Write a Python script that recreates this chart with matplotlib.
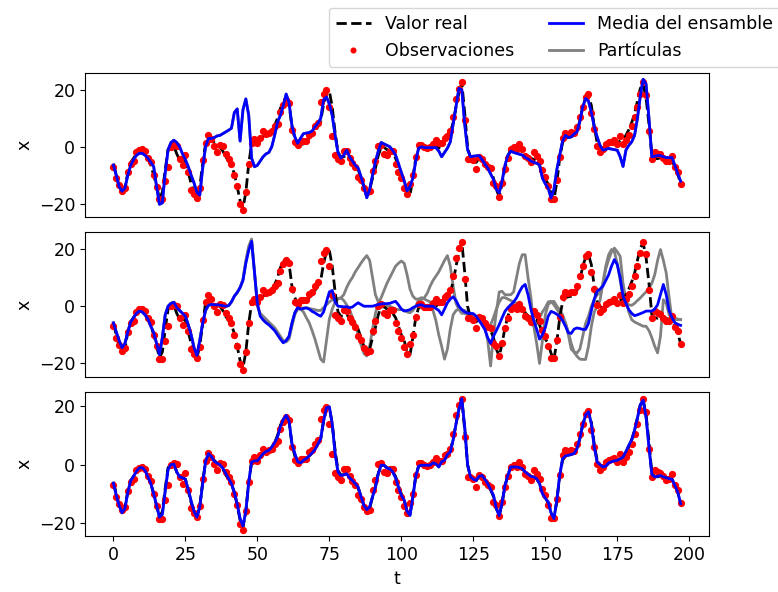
import numpy as np
import matplotlib
matplotlib.use("Agg")
import matplotlib.pyplot as plt

# Pasos de tiempo del experimento
t = np.arange(198)

# Trayectoria real (componente x)
truth = [
    -6, -10, -14, -16, -15, -9, -5.5, -4, -2.5, -1.2,
    -1, -2, -4, -6.5, -10, -14, -18, -16, -8, -1,
    0, 0.3, -2.5, -4.5, -4.5, -5, -9, -13, -16, -18,
    -14, -6, 1, 3.5, 3, 1.5, 0.5, 0, -1.5, -3.5,
    -5, -6.5, -9.5, -14, -19, -21.5, -16, -6, 1, 2,
    1.5, 2.5, 3.5, 4.5, 5, 6, 7.5, 10, 13.5, 15.5,
    16.5, 15, 7, 3, 1, 0.8, 1, 2, 3, 4,
    5.5, 7, 9, 15, 19, 19.5, 14, 5, -2, -3.5,
    -3.5, -3, -4, -5.5, -6.5, -8, -11, -14, -15.5, -15,
    -11, -7.5, -3, -0.2, -0.2, -1, -1.4, -2.5, -4, -7,
    -10, -12, -16, -17, -11, -4, -0.5, -0.2, -0.3, -0.3,
    -0.2, 0.5, 0.3, -0.5, 1, 2, 3.5, 5, 8.5, 14,
    19, 22.5, 12, 0, -4, -5, -5.5, -4, -4.5, -5.5,
    -6.5, -8.5, -11, -15, -17.5, -13, -7.5, -3.5, -0.8, -0.8,
    -0.8, -1, -1.4, -2.5, -3.3, -4, -4.5, -4.8, -6.5, -9.5,
    -11.5, -13, -16.5, -18.5, -12.5, -4, 1.5, 3, 3.3, 3.5,
    4, 5.5, 9, 14, 17, 18, 14.5, 7, 1.5, 0,
    -0.8, -0.5, 0.5, 1, 1.3, 1.5, 2, 2.6, 4, 6,
    8.5, 11.5, 16, 20.5, 22, 17, 8, -3, -4, -4.2,
    -3.8, -3.7, -4.3, -4.5, -5, -7, -9.5, -13,
]

# Observaciones ruidosas
obs = [
    -7, -11, -13.5, -15.5, -14.5, -9, -6, -5, -2, -1,
    -0.8, -1.5, -4, -5.5, -10, -14, -18.5, -18.5, -12, -7,
    0, 0.5, 0.2, -4.2, -6.5, -2.9, -8.8, -15, -16.6, -18,
    -14.3, -4.8, 1.3, 4, 2.6, 0.1, -1.9, 0.6, 0.3, -2.5,
    -4.2, -5.9, -9.9, -13.9, -20.2, -22.3, -15.9, -5.9, 1.3, 2.6,
    1.3, 3.2, 5.5, 4.5, 5, 5.5, 7.2, 8, 12.3, 14.6,
    16.3, 15.2, 6, 1.5, 0.6, 2.1, 2, 2.1, 4.3, 4.9,
    7.2, 8.3, 15.8, 18.6, 19.8, 14, 3.8, -2.9, -4.2, -5.1,
    -1.4, -1.6, -4, -5.6, -7.1, -10.5, -11.7, -14.5, -15.9, -15.5,
    -8.6, -5.1, 0.1, 0.6, -2.5, -2.9, -1.4, -1.4, -5.9, -8.8,
    -11.1, -14.3, -16.6, -13.1, -9.9, -3.7, 0.6, 0.6, -0.2, -0.3,
    -0.2, 1, 2.4, 1.3, 1.4, 3.2, 3.8, 5.5, 10.6, 16.9,
    20.3, 22.6, 9.5, -4.2, -4.2, -4.8, -7.7, -3.7, -4.2, -5.9,
    -7.1, -7.5, -12.8, -13.9, -17.5, -12.8, -7.7, -4, -0.8, -0.2,
    -0.8, 0.9, -0.8, -3.3, -4, -5.4, -1.7, -3.1, -5, -8.2,
    -10.5, -13.9, -18.2, -18.2, -11.7, -3.7, 3.2, 4.9, 4.6, 5.1,
    4.8, 7, 10.6, 14, 17.5, 18.4, 11.8, 6.1, 0.3, -1.9,
    -0.8, 0.9, 1.5, 1.8, 2.4, 1, 3.8, 1, 2.5, 4.3,
    7.2, 10.6, 14, 18.6, 22.6, 18.1, 5.5, -4.2, -1.7, -2.5,
    -2.7, -4, -5.1, -5, -3.3, -7.1, -8.8, -13.1,
]

# Media del ensamble, experimento 1
mean_1 = [
    -6.4, -10, -14, -15.6, -14.5, -10, -6.5, -4.5, -3, -2.3,
    -2.3, -3, -4, -5.5, -7, -14, -20.2, -19.7, -9, -1,
    1.5, 2.3, 1.5, 0, -2.5, -4.5, -7, -10, -12.7, -16,
    -17, -7.5, 0, 2.9, 2.9, 3.2, 3.8, 4, 4.6, 5.2,
    5.8, 6.5, 12, 13.3, 2, 13, 16.8, 11, -4, -7,
    -6.5, -5, -3.5, -2.5, -2, 0, 4, 8.7, 11, 14.5,
    18.5, 15.5, 7.5, 3.5, 1.2, 3, 4.6, 4.8, 5, 5.5,
    7, 8.2, 10, 16.5, 17.5, 15, 11, 4, -2, -4,
    -3, -1.2, -3.5, -5, -6.5, -7.5, -10.5, -14, -17.9, -15,
    -10, -5.2, -1.5, 1.5, 1, 0.5, 0, -1.3, -2.9, -6,
    -9, -12, -15.5, -14, -11, -5, -0.5, 0, -0.3, -0.3,
    -0.3, -0.3, -0.3, -1.5, -3.5, -2, -0.5, 1.7, 8, 14.5,
    20.5, 20, 8, -1, -3.5, -3.3, -3.2, -3.1, -4.5, -6,
    -7.5, -9.5, -11.5, -15, -16.2, -12, -6.5, -3, -1.5, -2,
    -2.3, -2.6, -2.9, -3.7, -4.3, -5, -5.5, -5.8, -6.4, -11,
    -13, -14.5, -18, -15, -8, -2.9, 2, 4, 3.2, 3.5,
    4.5, 5.2, 9, 14, 17, 16, 12.1, 7, 3.5, 0.5,
    -1.2, -0.9, -0.6, -0.8, -1, -1.2, -3.5, -6.9, -1.2, 0.5,
    1.7, 4, 10, 17.9, 23.7, 22, 10, -3.5, -3.3, -3.1,
    -3.1, -3.5, -3.8, -3.8, -3.8, -6.5, -9.5, -12.1,
]

# Media del ensamble, experimento 2
mean_2 = [
    -5.8, -9, -12, -14.5, -13, -9, -5.5, -4, -2.5, -1.7,
    -2, -3, -4.5, -7, -9.3, -13, -16.9, -11, -3, 0,
    1, 1.4, -0.5, -1.5, -2.5, -3.5, -6.5, -10, -14.5, -17.2,
    -12, -6, -1.5, 0.3, 0.6, 0.5, 0.5, 0.4, 0.2, 0,
    0.2, 1.5, 3.5, 4.8, 6.5, 9, 15, 19.5, 22.7, 12,
    1, -3.5, -4.8, -5.8, -6.5, -7.5, -8.5, -10, -11.5, -12.8,
    -12, -10.5, -6, -2.3, -0.5, -1, -0.8, -0.6, -1, -1.8,
    -2.3, -3, -3.5, -2, 1.5, 5, 5.5, 1.5, 0, -0.1,
    -0.2, -0.2, -0.5, -0.3, 0.5, 1.2, 0.6, 0, 0, 0,
    0, 0.3, 0.6, 0.8, 0.9, 0.9, 1, 1.4, 1.7, 0.5,
    -1, -1.7, -1.5, -1.2, -0.5, 0, 0.4, 0.5, 0, 0,
    0, 0, -0.8, -1.5, -3, -1, 1.2, 2.5, 3.3, 2,
    0, -1.2, -2, -2.4, -2.5, -2.6, -3.5, -5, -6.5, -8.1,
    -11, -13, -10.5, -8.5, -6.4, -4, -1.8, -0.5, 0.5, 1.5,
    2.9, 5, 6.8, 7.6, 4, -1, -5, -8, -11.5, -10,
    -7.5, -3.5, -1.8, -2.2, -2.8, -3.6, -5, -7, -9.3, -9.5,
    -8, -7.6, -7.8, -8.1, -8.1, -6, -1.5, 2.5, 5.2, 6,
    7, 9, 11, 14, 16.3, 14.5, 10, 3.5, 1, -1.2,
    -2.5, -3.3, -3, -2.6, -2.2, -1.7, -1.7, -1.7, -1, 0.5,
    4, 7.6, 4, -1.5, -4, -5.8, -6.3, -6.7,
]

# Dos partículas del experimento 2
part_2a = [
    -6, -9.5, -12.5, -15, -13.5, -9, -5.5, -4, -2.5, -1.7,
    -2, -3, -4.5, -7, -9.5, -13, -17, -11, -3, 0,
    1, 1.4, -0.5, -1.5, -2.5, -3.5, -6.5, -10, -14.5, -17.5,
    -12, -6, -1.5, 0.3, 0.6, 0.5, 0.5, 0.4, 0.2, 0,
    0.2, 1.5, 3.5, 4.8, 6.5, 9.5, 16, 21, 23.5, 12,
    0, -2.5, -3.5, -4.5, -5.5, -6.5, -7.5, -9, -10.5, -12,
    -12.5, -11.5, -7, -3, -1, -1, -2, -4, -5.8, -8.5,
    -11.5, -15, -18.5, -19.5, -12, -4.5, -1, 1.5, 2.5, 2.9,
    2, 0.5, -1, -4, -6, -10, -13.5, -16.5, -17.4, -14,
    -8, -2.5, 1, 3, 5.5, 8, 10, 12, 14, 15,
    15.8, 15, 11, 6, 3.5, 2.5, 2.5, 3, 2.5, 2,
    1.5, -1.5, -5, -10, -14, -18.5, -15, -8, -3, -1.5,
    -1, -1.2, -1.5, -2, -2.5, -3, -3.5, -4, -5, -6,
    -7, -6.5, -4, -1, 1.5, 3, 3, 2.5, 2, 1.5,
    1, 0, -1, -2, -3.5, -5.5, -7, -6, -4, -2,
    -0.5, 1.5, 1.7, 0.5, -1, -2.5, -4.5, -5.8, -9, -13,
    -16, -17.5, -18.5, -18.6, -18.6, -14, -7, -2, 0, 2,
    8, 13, 16.3, 19, 20.3, 19, 17.4, 8, 2, -2,
    -4.7, -5.5, -6, -6.5, -7, -7, -8.5, -11, -14, -16.3,
    -10.5, 2.3, 1, -3, -4, -4.2, -4.5, -4.7,
]

part_2b = [
    -5.8, -9, -12, -14.5, -13, -9, -5.5, -4, -2.5, -1.7,
    -2, -3, -4.5, -7, -9.3, -13, -16.9, -11, -3, 0,
    1, 1.4, -0.5, -1.5, -2.5, -3.5, -6.5, -10, -14.5, -17.2,
    -12, -6, -1.5, 0.3, 0.6, 0.5, 0.5, 0.4, 0.2, 0,
    0.2, 1.5, 3.5, 4.8, 6.5, 9.2, 15.5, 20.5, 23, 12,
    0.5, -3, -4.2, -5.2, -6, -7, -8, -9.5, -11, -12.5,
    -12, -10.5, -6, -2.3, -0.5, -0.8, -0.6, -0.5, -0.8, -1,
    -1.2, -1.5, -1.5, -0.5, 0.5, 1.5, 2.2, 2.5, 2.7, 2.9,
    4, 6.5, 8.5, 10, 12, 13.5, 15.1, 16.5, 17.7, 16,
    10, 4, 1.5, -0.2, -0.2, 0, 0, -0.5, -1, -1.2,
    -1.2, -1.4, -2, -2.3, -1.5, 0, 2.3, 2.3, 3, 4.5,
    7, 9, 10.5, 12, 14, 16, 17.7, 14, 7, 1,
    -1.2, -2.5, -2.5, -3, -3.5, -3.5, -3.5, -4, -5, -7.5,
    -12, -20.9, -10, -2, 5, 5.2, 4, 4, 4, 5,
    10, 15, 18, 18, 10, 3, -7, -13, -20, -12,
    -3, 0.6, 1.5, 1.7, 0, -1.2, -3, -5.8, -10, -15,
    -16, -16.3, -15, -10.5, -6, -3.5, 0, 2.3, 4, 4.7,
    8, 14, 18, 19.8, 19, 15, 9, 3, 1.2, 0.5,
    0.3, 1, 2, 2.9, 4, 5, 6.5, 8, 11, 16,
    19.8, 16, 11.6, 3, -4.7, -4.7, -4.7, -4.7,
]

# Media del ensamble, experimento 3
mean_3 = [
    -6.3, -10.5, -14, -16.5, -15, -9.5, -5.5, -4, -2.3, -1.1,
    -1, -2, -4.2, -6.5, -10, -14, -18, -17, -9, -1.5,
    0, 0.2, -2.5, -4.2, -4.5, -5, -8.5, -12.5, -16, -18,
    -14.5, -6.5, 1, 3.8, 2.8, 1.2, 0.5, 0, -1.2, -3,
    -4.8, -6.5, -9.5, -13.5, -18.5, -21, -16, -6, 0.9, 1.3,
    1.3, 2.5, 3.8, 4.5, 4.9, 6, 7.5, 9.5, 13, 15.5,
    16.9, 15, 7.2, 3.8, 1, 0.6, 1.5, 2.1, 3, 4,
    5.2, 7, 8.9, 15, 19.5, 19.8, 14, 3.8, -2.5, -3.7,
    -3.5, -3.1, -4.5, -5.4, -6.5, -7.7, -11, -14, -15.4, -14.5,
    -11, -7.7, -3, -0.2, -0.2, -1.2, -1.4, -2.5, -4.5, -7.7,
    -10.5, -12.2, -16, -17.4, -11.1, -4, -0.5, -0.2, -0.2, -0.2,
    -0.2, 0.6, 0.3, -0.8, 1, 1.5, 3.5, 4.3, 8.5, 14,
    19, 22.6, 13, 0, -4.2, -5, -5.4, -4, -3.7, -5,
    -6.5, -8.5, -10.5, -15, -17.5, -13, -7.1, -3.7, -0.8, -0.8,
    -0.8, -1, -1.4, -2.5, -3.3, -4, -4.2, -4.8, -6.5, -9.9,
    -11.5, -12.8, -16.5, -18.5, -12.2, -3.7, 2, 3, 3.2, 3.5,
    3.8, 5.5, 9, 13.5, 17, 18.1, 14, 6.1, 0.9, 0,
    -0.8, -0.5, 0.6, 1, 1.3, 1.5, 2, 2.6, 4.5, 6.6,
    8.5, 11.8, 16, 20.5, 22.1, 16.3, 6.1, -3.3, -4.2, -4,
    -3.7, -4.2, -4.5, -4.8, -5, -7.1, -9.4, -13.4,
]

plt.rcParams["font.size"] = 12.5

fig, axes = plt.subplots(3, 1, figsize=(7.78, 5.92), dpi=100)
fig.subplots_adjust(left=0.1093, right=0.9113, top=0.8772, bottom=0.0941,
                    hspace=0.108)

experiments = [
    (mean_1, [mean_1]),
    (mean_2, [part_2a, part_2b]),
    (mean_3, [mean_3]),
]

for i, (ax, (mean, particles)) in enumerate(zip(axes, experiments)):
    for p in particles:
        ax.plot(t, p, color="gray", lw=2, label="Partículas")
    ax.plot(t, truth, "k--", lw=2, label="Valor real")
    ax.plot(t, obs, "o", color="red", ms=4.2, label="Observaciones")
    ax.plot(t, mean, color="blue", lw=2, label="Media del ensamble")
    ax.set_ylabel("x")
    ax.set_xlim(-9.85, 206.85)
    if i < 2:
        ax.tick_params(axis="x", bottom=False, labelbottom=False)

axes[2].set_xlabel("t")
axes[2].set_xticks([0, 25, 50, 75, 100, 125, 150, 175, 200])

handles, labels = axes[0].get_legend_handles_labels()
by_label = dict(zip(labels, handles))
order = ["Valor real", "Observaciones", "Media del ensamble", "Partículas"]
fig.legend([by_label[k] for k in order], order, ncol=2,
           loc="upper left", bbox_to_anchor=(329 / 778, 1 - 8 / 592),
           borderaxespad=0, fontsize=12.5, markerscale=0.8)

fig.savefig("out.png", dpi=100)
